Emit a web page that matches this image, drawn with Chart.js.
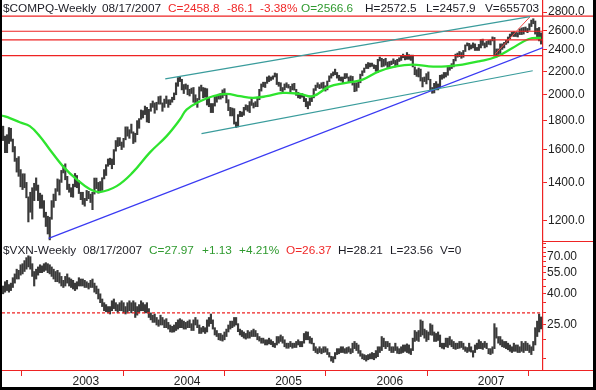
<!DOCTYPE html>
<html><head><meta charset="utf-8">
<script src="https://cdn.jsdelivr.net/npm/chart.js@4.4.1/dist/chart.umd.min.js"></script>
<style>
html,body{margin:0;padding:0;background:#fff;}
#wrap{position:relative;width:596px;height:390px;background:#000;overflow:hidden;}
#inner{position:absolute;left:2px;top:0;width:591px;height:387px;background:#fff;}
canvas{display:block;}
.h{position:absolute;font:11.8px "Liberation Sans",Arial,sans-serif;white-space:pre;line-height:14px;color:#1c1c24;}
.r{color:#f02828;} .g{color:#2f9a2f;}
</style></head><body>
<div id="wrap"><div id="inner">
<canvas id="c" width="591" height="387"></canvas>
<div class="h" style="left:1px;top:1px">$COMPQ-Weekly</div>
<div class="h" style="left:100px;top:1px">08/17/2007</div>
<div class="h r" style="left:166px;top:1px">C=2458.8</div>
<div class="h r" style="left:225px;top:1px">-86.1</div>
<div class="h r" style="left:258px;top:1px">-3.38%</div>
<div class="h g" style="left:299px;top:1px">O=2566.6</div>
<div class="h" style="left:363px;top:1px">H=2572.5</div>
<div class="h" style="left:424px;top:1px">L=2457.9</div>
<div class="h" style="left:483px;top:1px">V=655703</div>
<div class="h" style="left:1px;top:243px">$VXN-Weekly</div>
<div class="h" style="left:81px;top:243px">08/17/2007</div>
<div class="h g" style="left:147px;top:243px">C=27.97</div>
<div class="h g" style="left:200px;top:243px">+1.13</div>
<div class="h g" style="left:237px;top:243px">+4.21%</div>
<div class="h r" style="left:284px;top:243px">O=26.37</div>
<div class="h" style="left:336px;top:243px">H=28.21</div>
<div class="h" style="left:388px;top:243px">L=23.56</div>
<div class="h" style="left:438px;top:243px">V=0</div>
</div></div>
<script>
// ---- categories / ticks ----
const firstWeekEnd = '2002-04-26';
const xRange = ['2002-04-22', '2007-08-24'];
const yearTicks = [2003, 2004, 2005, 2006, 2007];
const compqTicks = [1200, 1400, 1600, 1800, 2000, 2200, 2400, 2600, 2800];
const compqRange = [1103, 2941];
const vxnTicks = [15, 20, 25, 30, 35, 40, 45, 50, 55, 60, 65, 70, 75, 80, 85];
const vxnLabeled = [25, 40, 55, 70];
const vxnRange = [12.68, 88.7];

// ---- $COMPQ weekly high / low (2002-04-26 .. 2007-08-17) ----
const compqHigh = [
 1760,1690,1700,1750,1745,1670,1620,1545,1555,1475,1450,1450,1400,1320,1345,1370,1395,1426,1385,1340,1330,1300,1240,1220,1215,1300,1335,1365,1420,1415,1470,1500,1510,1435,1390,1370,
 1390,1452,1440,1410,1345,1345,1312,1355,1350,1335,1345,1425,1425,1400,1405,1427,1475,1505,1540,1545,1540,1600,1660,1680,1680,1650,1675,1755,1755,1735,1775,1720,1710,1800,1815,1880,1875,1910,1900,1885,1930,1950,1935,1940,1985,1990,1935,1965,1990,1960,1960,1980,
 2015,2100,2145,2153,2130,2085,2090,2080,2045,2055,2060,2000,1970,2065,2080,2060,2055,2050,1975,1930,1930,1990,1995,2005,2010,2040,2050,2000,1960,1900,1895,1890,1790,1845,1870,1865,1900,1920,1915,1945,1970,1935,1945,1980,2045,2090,2105,2105,2150,2160,2150,2160,2185,
 2180,2105,2100,2060,2090,2100,2085,2070,2090,2095,2045,2020,2010,2010,2000,1970,1945,1975,1990,2050,2080,2100,2085,2100,2105,2075,2115,2160,2180,2195,2220,2190,2165,2150,2150,2180,2180,2150,2160,2155,2100,2100,2110,2175,2205,2230,2265,2280,2275,2275,2260,2255,
 2310,2332,2320,2310,2320,2285,2290,2295,2315,2300,2310,2325,2345,2360,2340,2375,2355,2350,2350,2240,2215,2230,2220,2145,2150,2180,2195,2130,2060,2095,2110,2090,2165,2170,2190,2190,2240,2250,2270,2310,2360,2370,2385,2375,2395,2450,2470,2465,2450,2470,2460,2425,
 2455,2505,2508,2470,2485,2495,2500,2531,2525,2410,2410,2460,2460,2475,2495,2530,2560,2580,2585,2580,2575,2615,2625,2630,2635,2620,2670,2710,2725,2700,2620,2630,2573
];
const compqLow = [
 1660,1580,1580,1640,1655,1585,1525,1460,1435,1375,1360,1370,1315,1192,1240,1206,1300,1355,1300,1260,1260,1215,1170,1135,1108,1205,1265,1300,1350,1330,1400,1455,1415,1360,1345,1320,
 1318,1375,1370,1338,1305,1280,1271,1300,1310,1290,1253,1335,1365,1340,1350,1355,1420,1440,1495,1505,1480,1505,1590,1620,1625,1600,1615,1665,1690,1675,1710,1640,1650,1700,1745,1810,1820,1845,1790,1785,1870,1900,1855,1880,1925,1925,1870,1900,1930,1900,1920,1940,
 1960,2000,2070,2110,2040,2010,2045,2000,1990,2010,1940,1925,1900,1960,2030,1975,1980,1918,1905,1860,1860,1910,1940,1965,1965,1975,1995,1935,1875,1835,1835,1775,1750,1755,1830,1830,1840,1880,1870,1860,1915,1895,1905,1905,1960,2030,2065,2060,2095,2110,2120,2130,2150,
 2085,2070,2032,2025,2040,2060,2055,2025,2040,2038,1995,1975,1970,1980,1945,1905,1889,1915,1945,1975,2035,2060,2050,2055,2050,2030,2040,2110,2140,2160,2170,2140,2120,2115,2100,2135,2140,2105,2110,2080,2025,2030,2060,2100,2160,2190,2225,2225,2240,2245,2225,2200,
 2190,2295,2240,2245,2255,2235,2240,2260,2270,2240,2260,2290,2300,2325,2305,2310,2310,2300,2240,2170,2155,2150,2115,2065,2110,2090,2125,2035,2012,2015,2040,2040,2060,2130,2140,2150,2165,2210,2225,2240,2295,2330,2335,2320,2330,2385,2440,2400,2410,2420,2395,2395,
 2395,2420,2445,2420,2430,2455,2450,2490,2340,2331,2355,2365,2405,2420,2455,2470,2510,2540,2535,2535,2530,2555,2555,2560,2585,2575,2600,2640,2670,2560,2510,2490,2458
];

// ---- $VXN weekly high / low ----
const vxnHigh = [
 45,48,49,46,47,51,54,58,57,62,63,66,69,71,70,63,56,58,60,62,61,63,64,63,62,60,58,56,57,55,52,49,52,54,51,50,
 49,47,48,51,50,50,49,48,47,49,50,47,45,43,40,37,35,34,33,33,36,37,35,34,35,36,35,33,35,36,35,36,35,33,34,36,35,34,35,32,30,29,29.5,28,27,29,28,27,27.5,26,25,24.5,
 25,26,27,27.5,27,26.5,26,26.5,27,25.5,27,28,27,25,24,24.5,24,27,28,29.5,27,24,23,22,22,21.5,22.5,23.5,25,26.5,26.5,28,28,25.5,23.5,23,22.5,22,23,22.5,23,23.5,23,22,21,20.5,20.5,20,20,20.5,20,19.5,19,
 21,21,21.5,21,20,19,19,19.5,19,19,19.5,20,19.5,19.5,22,22.6,22.5,21,20.5,19,18,17.5,18,17.5,18,18,17.5,16.5,15.6,15.5,16.5,17.5,17.5,18,18,17.5,17.8,18,17.5,19,19.5,19,18.5,17,16.2,16,15.8,16,16.2,16.5,16.3,17,
 18,18,21,20.5,19.5,19.5,19,18,18,19,18,17.5,18,18.5,18.5,18.8,18.5,17.5,20.5,23,22.5,23,27,26.5,23.5,23,22.5,25.5,25,22.5,22,22.5,21.5,19,19,20.5,20.5,21,20,19.5,19,19,19.5,19.5,19,18,17.8,19,18,17,18.5,19,
 20,19.5,19,19.5,19,17.5,17.5,18,25.5,24,21,21,20,19.5,19.5,19,18.5,18,19,18.5,18.5,18,19.5,19,19.5,19,18.5,18,19.5,24,26.5,29.5,28.21
];
const vxnLow = [
 40,41,42,41,42,44,47,50,50,53,54,56,58,60,58,52,45,50,53,55,55,56,57,55,54,52,50,48,48,47,45,44,45,47,45,44,
 43,42,43,45,45,45,44,44,43,44,44,41,40,37,35,33,31,30.5,30,29.5,31,32,31,30,31,31,30,29.5,30,31,30,31,28,29,30,31,31,30,30,28,27,26,26,25,24.5,25,25,24,24,23.5,22.5,22.4,
 22.5,23,23.5,24,24,23.5,23.5,24,24,23,23,25,24,22,22,22.5,22,22.5,24.5,25.5,23.5,21.5,21,20,19.8,19.6,20,21,22.5,23.5,24,24.5,25,22.6,21.5,21,20.5,20.2,20.5,20.5,21,21,21,20,19.6,19,19,18.5,18.5,18.8,18.6,18,17.8,
 18.5,19,19.5,19,18,17.6,17.6,18,17.6,17.8,17.8,18.5,18,18,19,20,20,19,18.8,17,16.5,16.2,16.5,16.2,16.5,16.6,16,15.4,14.5,14.2,15,16,16.2,16.5,16.5,16.3,16.3,16.6,16.2,16.5,17.5,17,16.3,15.6,15,14.8,14.5,14.8,15,15,14.8,15.2,
 15.5,16.5,17,18,17.5,18,17,16.5,16.5,17,16.3,16.2,16.3,16.5,16.8,16.5,16.3,16,17,19.5,19.8,19.5,21,21.5,20.5,19.5,20,21.5,21.4,19.5,19.5,19.8,18,17.6,17.4,18,17.8,18.5,18,17.5,17.3,17.5,17.6,17.8,17.3,16.8,16.5,16.8,16.6,15.4,16.5,17.3,
 17.5,17.5,17.3,17.8,17.5,16.2,16,16.3,17.5,20.5,19,18.5,18,17.8,17.5,17.2,16.8,16.5,16.8,16.8,16.5,16.5,16.8,16.5,17,17,16.5,16,17,18.5,21,22.5,23.56
];

// ---- 40-week moving average ----
const maDates = ['2002-04-22','2002-05-20','2002-06-25','2002-07-31','2002-09-05','2002-10-11','2002-11-27','2003-01-16','2003-03-05','2003-04-09','2003-06-09','2003-08-06','2003-10-07','2003-12-06','2004-01-23','2004-02-16','2004-04-05','2004-05-21','2004-07-09','2004-08-27','2004-10-13','2004-12-01','2005-01-29','2005-03-31','2005-05-17','2005-07-13','2005-09-13','2005-11-12','2006-01-10','2006-03-12','2006-05-11','2006-07-09','2006-09-08','2006-11-07','2007-01-05','2007-03-07','2007-05-06','2007-07-04','2007-08-17'];
const maValues = [1838,1819,1788,1760,1690,1601,1496,1417,1361,1346,1379,1458,1582,1690,1808,1883,1948,1988,2007,1988,1975,1988,2015,2007,1988,2065,2099,2127,2200,2245,2261,2245,2245,2261,2291,2332,2419,2509,2522];

// ---- trend lines ----
const upperChannelDates = ['2003-12-01','2007-07-08'], upperChannelValues = [2133, 2749];
const lowerChannelDates = ['2004-04-10','2007-07-18'], lowerChannelValues = [1708, 2205];
const supportDates = ['2002-10-07','2007-08-24'], supportValues = [1115, 2424];
const riseDates = ['2007-03-04','2007-07-08'], riseValues = [2358, 2747];
const compqPriceLines = [2755, 2590, 2500, 2346];
const vxnPriceLine = 30;

// ---- helpers ----
const parseDate = s => { const [y,m,d] = s.split('-').map(Number); return Date.UTC(y, m-1, d); };
const toYear = ms => { const y = new Date(ms).getUTCFullYear(); const a = Date.UTC(y,0,1), b = Date.UTC(y+1,0,1); return y + (ms-a)/(b-a); };
const dy = s => toYear(parseDate(s));
const t0 = parseDate(firstWeekEnd);
const weekX = compqHigh.map((_, i) => toYear(t0 + i*7*86400000));
const xMin = dy(xRange[0]), xMax = dy(xRange[1]);
const pts = (dates, vals) => dates.map((d, i) => ({x: dy(d), y: vals[i]}));
const bars = (hi, lo) => hi.map((h, i) => ({x: weekX[i], y: [lo[i], h]}));

const RED = '#ee2323', TEAL = '#3a9c9c', BLUE = '#3a3af2', GREEN = '#2ee42e';
const FONT = '"Liberation Sans", Arial, sans-serif';
Chart.defaults.font.family = FONT;

const lineDs = (data, axis, color, width, extra) => Object.assign({
  type: 'line', data, yAxisID: axis, borderColor: color, borderWidth: width,
  pointRadius: 0, tension: 0, fill: false, order: 1
}, extra || {});

const BAR = '#3a3a3a';
const datasets = [
  {type: 'bar', data: bars(compqHigh, compqLow), yAxisID: 'yTop', backgroundColor: BAR, barThickness: 1.5, grouped: false, order: 10},
  {type: 'bar', data: bars(vxnHigh, vxnLow), yAxisID: 'yBot', backgroundColor: BAR, barThickness: 1.5, grouped: false, order: 10},
  lineDs(pts(maDates, maValues), 'yTop', GREEN, 2.3, {tension: 0.4, order: 2}),
  lineDs(pts(upperChannelDates, upperChannelValues), 'yTop', TEAL, 1.2),
  lineDs(pts(lowerChannelDates, lowerChannelValues), 'yTop', TEAL, 1.2),
  lineDs(pts(supportDates, supportValues), 'yTop', BLUE, 1.2),
  lineDs(pts(riseDates, riseValues), 'yTop', '#f04848', 1),
  ...compqPriceLines.map(v => lineDs([{x: xMin, y: v}, {x: xMax, y: v}], 'yTop', RED, 1.2)),
  lineDs([{x: xMin, y: vxnPriceLine}, {x: xMax, y: vxnPriceLine}], 'yBot', RED, 1.2, {borderDash: [3, 2]})
];

const frame = {
  id: 'frame',
  afterDraw(chart) {
    const ctx = chart.ctx, a = chart.chartArea, W = chart.width;
    const yT = chart.scales.yTop;
    ctx.save();
    ctx.strokeStyle = RED; ctx.lineWidth = 1.2;
    const hl = (x0, x1, y) => { ctx.beginPath(); ctx.moveTo(x0, y); ctx.lineTo(x1, y); ctx.stroke(); };
    hl(a.right, W, yT.getPixelForValue(compqPriceLines[0]));
    hl(a.right, W, Math.round(yT.bottom) + 0.5);
    hl(0, W, Math.round(a.bottom) + 0.5);
    ctx.restore();
  }
};

const tickFont = {family: FONT, size: 12};
new Chart(document.getElementById('c'), {
  type: 'bar',
  data: {datasets},
  plugins: [frame],
  options: {
    responsive: false, animation: false, devicePixelRatio: 1,
    layout: {padding: 0},
    plugins: {legend: {display: false}, tooltip: {enabled: false}},
    scales: {
      yTop: {
        type: 'logarithmic', position: 'right', stack: 'panels', stackWeight: 241,
        min: compqRange[0], max: compqRange[1], offset: false,
        afterBuildTicks: s => { s.ticks = compqTicks.map(v => ({value: v})); },
        afterFit: s => { s.width = 50; s.paddingTop = 0; s.paddingBottom = 0; },
        ticks: {callback: v => Number(v).toFixed(1), color: '#222', font: tickFont, padding: 1, autoSkip: false},
        grid: {drawOnChartArea: false, drawTicks: true, tickLength: 4, color: RED},
        border: {display: true, color: RED, width: 1.2}
      },
      yBot: {
        type: 'logarithmic', position: 'right', stack: 'panels', stackWeight: 129,
        min: vxnRange[0], max: vxnRange[1], offset: false,
        afterBuildTicks: s => { s.ticks = vxnTicks.map(v => ({value: v})); },
        afterFit: s => { s.width = 50; s.paddingTop = 0; s.paddingBottom = 0; },
        ticks: {callback: v => vxnLabeled.includes(Number(v)) ? Number(v).toFixed(2) : '', color: '#222', font: tickFont, padding: 1, autoSkip: false},
        grid: {drawOnChartArea: false, drawTicks: true, tickLength: 3, color: RED},
        border: {display: true, color: RED, width: 1.2}
      },
      x: {
        type: 'linear', position: 'bottom', min: xMin, max: xMax, offset: false,
        afterBuildTicks: s => { s.ticks = yearTicks.map(v => ({value: v})); },
        afterFit: s => { s.height = 17; s.paddingLeft = 0; s.paddingRight = 0; },
        ticks: {callback: v => String(v), align: 'start', color: '#222', font: tickFont, padding: -2, maxRotation: 0, autoSkip: false},
        grid: {drawOnChartArea: false, drawTicks: true, tickLength: 6, color: RED},
        border: {display: false}
      }
    }
  }
});
</script>
</body></html>
